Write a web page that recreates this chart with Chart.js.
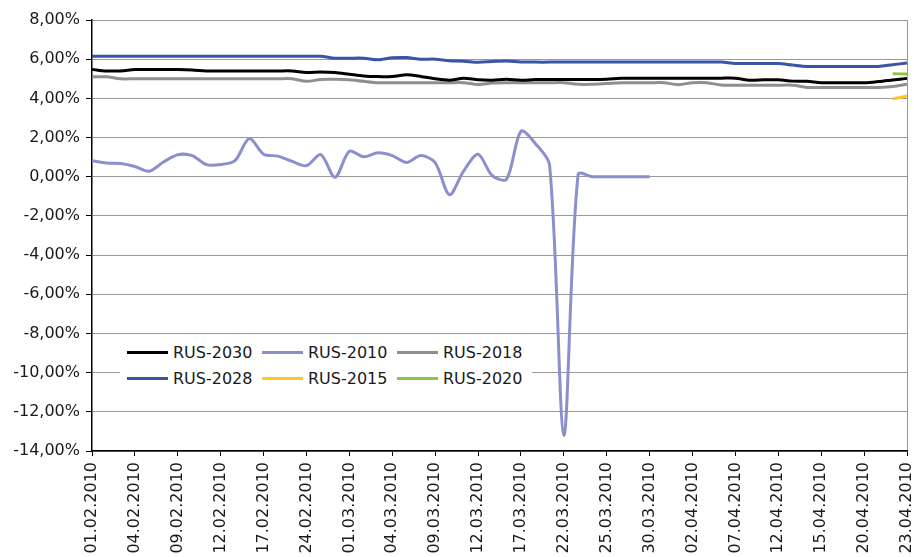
<!DOCTYPE html>
<html>
<head>
<meta charset="utf-8">
<script src="https://cdn.jsdelivr.net/npm/chart.js@4.4.1/dist/chart.umd.min.js"></script>
<style>
    html, body { margin: 0; padding: 0; background: #fff; overflow: hidden; }
    #wrap { position: relative; width: 914px; height: 557px; }
    #legend {
        position: absolute; left: 120px; top: 339px; width: 412px; height: 52px;
        background: #fff; padding-left: 7px; box-sizing: border-box;
        display: flex; flex-wrap: wrap; font-family: "DejaVu Sans", sans-serif; font-size: 16px; color: #1a1a1a;
    }
    .item { display: flex; align-items: center; width: 135px; height: 26px; }
    .swatch { width: 41px; height: 3px; margin-right: 5px; }
</style>
</head>
<body>
<div id="wrap">
    <canvas id="chart" width="914" height="557"></canvas>
    <div id="legend"></div>
</div>
<script>
const dates = [
    '01.02.2010', '02.02.2010', '03.02.2010', '04.02.2010', '05.02.2010', '08.02.2010', '09.02.2010', '10.02.2010',
    '11.02.2010', '12.02.2010', '15.02.2010', '16.02.2010', '17.02.2010', '18.02.2010', '19.02.2010', '24.02.2010',
    '25.02.2010', '26.02.2010', '01.03.2010', '02.03.2010', '03.03.2010', '04.03.2010', '05.03.2010', '06.03.2010',
    '09.03.2010', '10.03.2010', '11.03.2010', '12.03.2010', '15.03.2010', '16.03.2010', '17.03.2010', '18.03.2010',
    '19.03.2010', '22.03.2010', '23.03.2010', '24.03.2010', '25.03.2010', '26.03.2010', '29.03.2010', '30.03.2010',
    '31.03.2010', '01.04.2010', '02.04.2010', '05.04.2010', '06.04.2010', '07.04.2010', '08.04.2010', '09.04.2010',
    '12.04.2010', '13.04.2010', '14.04.2010', '15.04.2010', '16.04.2010', '19.04.2010', '20.04.2010', '21.04.2010',
    '22.04.2010', '23.04.2010'
];

const rus2030 = [
    5.48, 5.40, 5.40, 5.47, 5.47, 5.47, 5.47, 5.45, 5.40, 5.40, 5.40, 5.40, 5.40, 5.40, 5.40, 5.32,
    5.35, 5.32, 5.23, 5.14, 5.11, 5.12, 5.20, 5.12, 5.00, 4.93, 5.03, 4.95, 4.93, 4.97, 4.92, 4.96,
    4.96, 4.96, 4.96, 4.96, 4.98, 5.03, 5.03, 5.03, 5.03, 5.03, 5.03, 5.03, 5.03, 5.03, 4.93, 4.95,
    4.95, 4.88, 4.87, 4.80, 4.80, 4.80, 4.80, 4.86, 4.94, 5.02
];
const rus2010 = [
    0.82, 0.70, 0.67, 0.52, 0.28, 0.75, 1.12, 1.08, 0.62, 0.62, 0.82, 1.95, 1.15, 1.05, 0.78, 0.57,
    1.13, -0.03, 1.30, 1.02, 1.22, 1.08, 0.73, 1.08, 0.72, -0.92, 0.30, 1.15, 0.05, -0.12, 2.32, 1.70,
    0.60, -13.20, 0.12, 0.00, 0.00, 0.00, 0.00, 0.00,
    null, null, null, null, null, null, null, null, null, null, null, null, null, null, null, null, null, null
];
const rus2018 = [
    5.10, 5.10, 5.00, 5.00, 5.00, 5.00, 5.00, 5.00, 5.00, 5.00, 5.00, 5.00, 5.00, 5.00, 5.00, 4.87,
    4.96, 4.97, 4.95, 4.87, 4.80, 4.80, 4.80, 4.80, 4.80, 4.80, 4.80, 4.71, 4.78, 4.80, 4.80, 4.80,
    4.80, 4.80, 4.72, 4.72, 4.76, 4.80, 4.80, 4.80, 4.80, 4.70, 4.80, 4.80, 4.68, 4.67, 4.67, 4.67,
    4.67, 4.67, 4.56, 4.56, 4.56, 4.56, 4.56, 4.56, 4.60, 4.72
];
const rus2028 = [
    6.15, 6.15, 6.15, 6.15, 6.15, 6.15, 6.15, 6.15, 6.15, 6.15, 6.15, 6.15, 6.15, 6.15, 6.15, 6.15,
    6.15, 6.05, 6.05, 6.05, 5.97, 6.07, 6.08, 6.00, 6.00, 5.92, 5.90, 5.84, 5.88, 5.91, 5.86, 5.85,
    5.85, 5.85, 5.85, 5.85, 5.85, 5.85, 5.85, 5.85, 5.85, 5.85, 5.85, 5.85, 5.85, 5.78, 5.78, 5.78,
    5.78, 5.70, 5.63, 5.63, 5.63, 5.63, 5.63, 5.63, 5.72, 5.80
];
const rus2015 = Array(56).fill(null).concat([3.97, 4.12]);
const rus2020 = Array(56).fill(null).concat([5.26, 5.24]);

const seriesNames = ['RUS-2030', 'RUS-2010', 'RUS-2018', 'RUS-2028', 'RUS-2015', 'RUS-2020'];
const seriesData = [rus2030, rus2010, rus2018, rus2028, rus2015, rus2020];
const seriesColors = ['#000000', '#8b90cd', '#8f8f8f', '#3a55a8', '#ffc61e', '#8cc63e'];

const yTicks = [-14, -12, -10, -8, -6, -4, -2, 0, 2, 4, 6, 8];

document.addEventListener('DOMContentLoaded', function() {
    const font = { family: '"DejaVu Sans", sans-serif', size: 16 };

    const legendEl = document.getElementById('legend');
    seriesNames.forEach(function(name, i) {
        const item = document.createElement('div');
        item.className = 'item';
        item.innerHTML = '<span class="swatch" style="background:' + seriesColors[i] + '"></span>' + name;
        legendEl.appendChild(item);
    });

    const ctx = document.getElementById('chart').getContext('2d');
    new Chart(ctx, {
        type: 'line',
        data: {
            labels: dates,
            datasets: seriesNames.map(function(name, i) {
                return {
                    label: name,
                    data: seriesData[i],
                    borderColor: seriesColors[i],
                    backgroundColor: seriesColors[i],
                    borderWidth: 3,
                    pointRadius: 0,
                    tension: 0.3,
                    fill: false
                };
            })
        },
        options: {
            responsive: false,
            animation: false,
            layout: { padding: { top: 20, right: 7, left: 0, bottom: 0 } },
            plugins: {
                legend: { display: false },
                tooltip: { enabled: false }
            },
            scales: {
                x: {
                    offset: false,
                    afterFit: function(scale) {
                        scale.height = 106;
                        scale.paddingLeft = 0;
                        scale.paddingRight = 0;
                    },
                    border: { display: true, color: '#000', width: 1.5 },
                    grid: {
                        drawOnChartArea: true,
                        color: function(c) { return c.index === dates.length - 1 ? '#999' : 'rgba(0,0,0,0)'; },
                        tickColor: function(c) { return c.index % 3 === 0 ? '#000' : 'rgba(0,0,0,0)'; },
                        tickLength: 5
                    },
                    ticks: {
                        autoSkip: false,
                        maxRotation: 90,
                        minRotation: 90,
                        padding: 6,
                        color: '#1a1a1a',
                        font: font,
                        callback: function(value, index) {
                            return index % 3 === 0 ? dates[index] : '';
                        }
                    }
                },
                y: {
                    min: -14,
                    max: 8,
                    afterFit: function(scale) {
                        scale.width = 92;
                        scale.paddingTop = 0;
                        scale.paddingBottom = 0;
                    },
                    afterBuildTicks: function(scale) {
                        scale.ticks = yTicks.map(function(v) { return { value: v }; });
                    },
                    border: { display: true, color: '#000', width: 1.5 },
                    grid: {
                        color: '#999',
                        lineWidth: 1,
                        tickColor: '#000',
                        tickLength: 6
                    },
                    ticks: {
                        padding: 6,
                        color: '#1a1a1a',
                        font: font,
                        callback: function(value) {
                            return value.toFixed(2).replace('.', ',') + '%';
                        }
                    }
                }
            }
        }
    });
});
</script>
</body>
</html>
